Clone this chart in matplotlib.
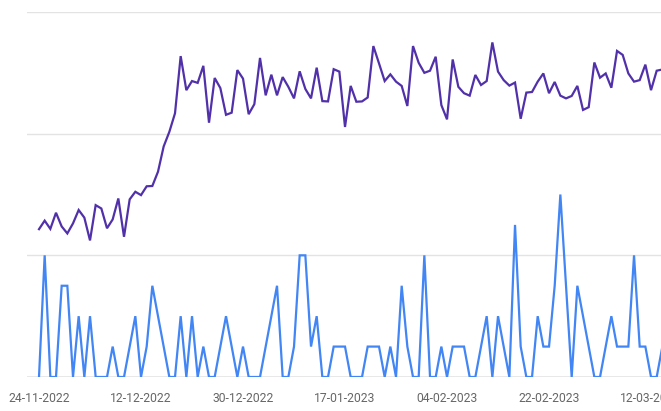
import matplotlib
matplotlib.use("Agg")
import matplotlib.pyplot as plt
import pandas as pd
import matplotlib.dates as mdates

start_date = "2022-11-24"

purple_values = [
    4.86, 5.14, 4.87, 5.40, 4.95, 4.72, 5.05, 5.49, 5.24, 4.49,
    5.65, 5.54, 4.89, 5.18, 5.87, 4.61, 5.84, 6.09, 5.98, 6.27,
    6.28, 6.75, 7.58, 8.06, 8.67, 10.55, 9.43, 9.73, 9.67, 10.23,
    8.36, 9.83, 9.50, 8.62, 8.69, 10.09, 9.81, 8.64, 8.97, 10.49,
    9.26, 9.94, 9.26, 9.86, 9.54, 9.16, 10.05, 9.47, 9.16, 10.17,
    9.07, 9.06, 10.12, 10.04, 8.22, 9.57, 9.05, 9.06, 9.19, 10.88,
    10.31, 9.73, 9.95, 9.71, 9.57, 8.91, 10.88, 10.33, 10.00, 10.07,
    10.53, 8.94, 8.47, 10.44, 9.54, 9.33, 9.25, 9.93, 9.60, 9.73,
    11.00, 10.04, 9.76, 9.58, 9.68, 8.49, 9.35, 9.37, 9.71, 9.98,
    9.33, 9.70, 9.25, 9.16, 9.24, 9.57, 8.78, 8.87, 10.34, 9.84,
    9.98, 9.51, 10.72, 10.59, 9.98, 9.71, 9.76, 10.27, 9.43, 10.07,
    10.11,
]

blue_values = [
    0, 4, 0, 0, 3, 3, 0, 2, 0, 2,
    0, 0, 0, 1, 0, 0, 1, 2, 0, 1,
    3, 2, 1, 0, 0, 2, 0, 2, 0, 1,
    0, 0, 1, 2, 1, 0, 1, 0, 0, 0,
    1, 2, 3, 0, 0, 1, 4, 4, 1, 2,
    0, 0, 1, 1, 1, 0, 0, 0, 1, 1,
    1, 0, 1, 0, 3, 1, 0, 0, 4, 0,
    0, 1, 0, 1, 1, 1, 0, 0, 1, 2,
    0, 2, 1, 0, 5, 1, 0, 0, 2, 1,
    1, 3, 6, 3, 0, 3, 2, 1, 0, 0,
    1, 2, 1, 1, 1, 4, 1, 1, 0, 0,
    1,
]

tick_dates = ["2022-11-24", "2022-12-12", "2022-12-30", "2023-01-17",
              "2023-02-04", "2023-02-22", "2023-03-12"]
tick_labels = ["24-11-2022", "12-12-2022", "30-12-2022", "17-01-2023",
               "04-02-2023", "22-02-2023", "12-03-2023"]
y_grid = [0, 4, 8, 12]

dates = pd.date_range(start_date, periods=len(blue_values), freq="D")

W, H = 661, 411
fig = plt.figure(figsize=(W / 100, H / 100), dpi=100)
left_px, right_px, top_px, bottom_px = 27, 661, 12, 377
ax = fig.add_axes([left_px / W, 1 - bottom_px / H,
                   (right_px - left_px) / W, (bottom_px - top_px) / H])

d0 = mdates.date2num(pd.Timestamp(start_date))
ax.set_xlim(d0 - 2.118, d0 + 109.76)
ax.set_ylim(0, 12)

for g in y_grid:
    ax.axhline(g, color="#e3e3e3" if g != 0 else "#8a8a8a",
               lw=1.0, zorder=0 if g != 0 else 1)

ax.plot(dates, blue_values, color="#4285f4", lw=1.6, zorder=3,
        solid_joinstyle="miter", clip_on=True)
ax.plot(dates, purple_values, color="#5131a9", lw=1.6, zorder=4,
        solid_joinstyle="miter", clip_on=True)

for s in ax.spines.values():
    s.set_visible(False)
ax.set_yticks([])
ax.set_xticks([mdates.date2num(pd.Timestamp(t)) for t in tick_dates])
ax.set_xticklabels(tick_labels, fontfamily="Roboto", fontsize=8.7,
                   color="#666666")
ax.tick_params(axis="x", length=0, pad=10.5)

fig.savefig("out.png", dpi=100)
